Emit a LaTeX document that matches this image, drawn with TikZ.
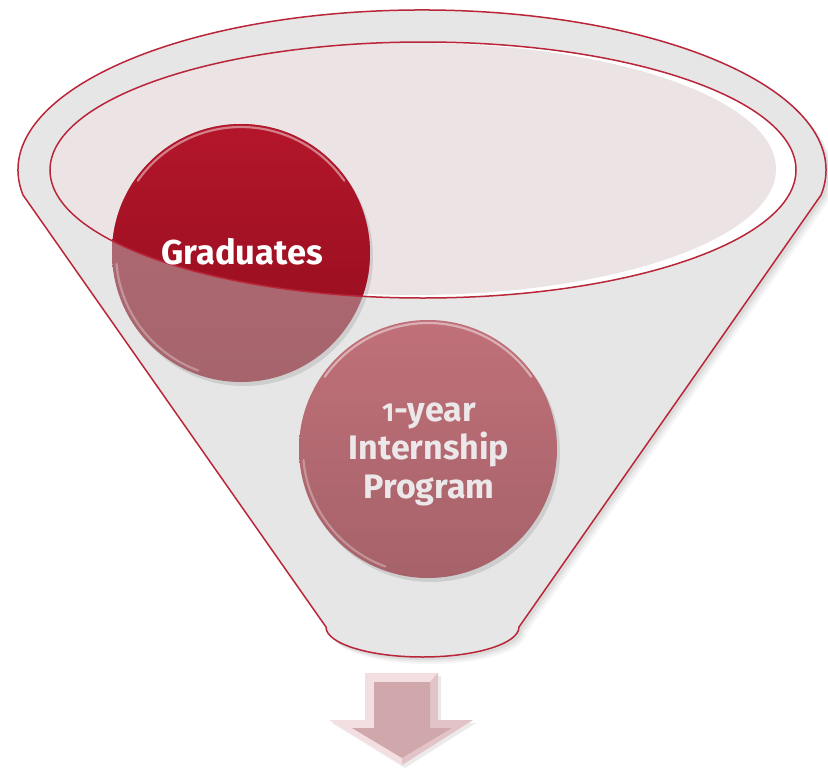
\documentclass[tikz,border=0pt]{standalone}
\usepackage{fontspec}
\setmainfont{Fira Sans}
\definecolor{rimred}{RGB}{185,38,58}
\definecolor{bodygray}{RGB}{230,230,230}
\definecolor{innerpink}{RGB}{236,227,229}
\definecolor{gradtop}{RGB}{180,22,42}
\definecolor{gradbot}{RGB}{145,12,30}
\definecolor{mutedtop}{RGB}{178,108,116}
\definecolor{mutedbot}{RGB}{166,100,108}
\definecolor{interntop}{RGB}{192,112,120}
\definecolor{internbot}{RGB}{166,98,106}
\definecolor{arrowface}{RGB}{208,168,172}
\definecolor{arrowlight}{RGB}{243,223,226}
\definecolor{arrowmid}{RGB}{226,196,200}
\definecolor{interntext}{RGB}{236,232,233}
\tikzset{
  outline/.style={draw=rimred, line width=1.5},
  gradlabel/.style={text=white, font=\bfseries\fontsize{34.5}{38}\selectfont},
  internlabel/.style={text=interntext, align=center, font=\bfseries\fontsize{34}{38.5}\selectfont},
  gloss/.style={draw=white, opacity=0.45, line width=2.2, line cap=round}
}
\newcommand{\funnelpath}{(23,195) arc[start angle=171,end angle=369,x radius=404,y radius=160] -- (519,627) arc[start angle=0,end angle=180,x radius=96.5,y radius=30] -- cycle}
\newcommand{\smallone}{{\fontsize{26}{38}\selectfont 1}}
\begin{document}
\begin{tikzpicture}[x=1pt,y=-1pt]
\useasboundingbox (0,0) rectangle (828,769);
% soft shadow
\foreach \s/\o in {7/0.04,5/0.05,3/0.06}{
  \begin{scope}[shift={(\s,\s)}]
    \fill[black,opacity=\o] \funnelpath;
  \end{scope}
}
% funnel body
\fill[bodygray] \funnelpath;
% inner opening
\fill[white] (423,170) ellipse[x radius=373,y radius=128];
\fill[innerpink] (413,169) ellipse[x radius=363,y radius=126];
% circle shadows
\fill[black,opacity=0.10] (244,257) circle[radius=129];
\fill[black,opacity=0.10] (431,453) circle[radius=129];
% graduates circle: muted (front) part then vivid part inside the opening
\shade[top color=mutedtop,bottom color=mutedbot] (241,253) circle[radius=129];
\begin{scope}
  \clip (423,170) ellipse[x radius=373,y radius=128];
  \shade[top color=gradtop,bottom color=gradbot] (241,253) circle[radius=129];
\end{scope}
\draw[gloss] (241,253) ++(215:126) arc[start angle=215,end angle=325,radius=126];
\draw[gloss,opacity=0.3] (241,253) ++(110:125) arc[start angle=110,end angle=175,radius=125];
% internship circle
\shade[top color=interntop,bottom color=internbot] (428,449) circle[radius=129];
\draw[gloss] (428,449) ++(215:126) arc[start angle=215,end angle=325,radius=126];
\draw[gloss,opacity=0.3] (428,449) ++(110:125) arc[start angle=110,end angle=175,radius=125];
% outlines
\draw[outline] (423,170) ellipse[x radius=373,y radius=128];
\draw[outline] \funnelpath;
% labels
\node[gradlabel] (grad) at (242,252) {Graduates};
\node[internlabel] (intern) at (429,454) {\smallone-year\\Internship\\Program};
% arrow
\fill[black,opacity=0.08] (368,676) -- (441,676) -- (441,723) -- (476,723) -- (405,768) -- (332,723) -- (368,723) -- cycle;
\fill[arrowlight] (365,673) -- (438,673) -- (438,720) -- (473,720) -- (402,765) -- (329,720) -- (365,720) -- cycle;
\fill[arrowmid] (438,673) -- (438,720) -- (473,720) -- (402,765) -- (402,758) -- (452,728) -- (430,728) -- (430,682) -- cycle;
\fill[arrowface] (374,682) -- (430,682) -- (430,728) -- (452,728) -- (402,758) -- (352,728) -- (374,728) -- cycle;
\end{tikzpicture}
\end{document}
